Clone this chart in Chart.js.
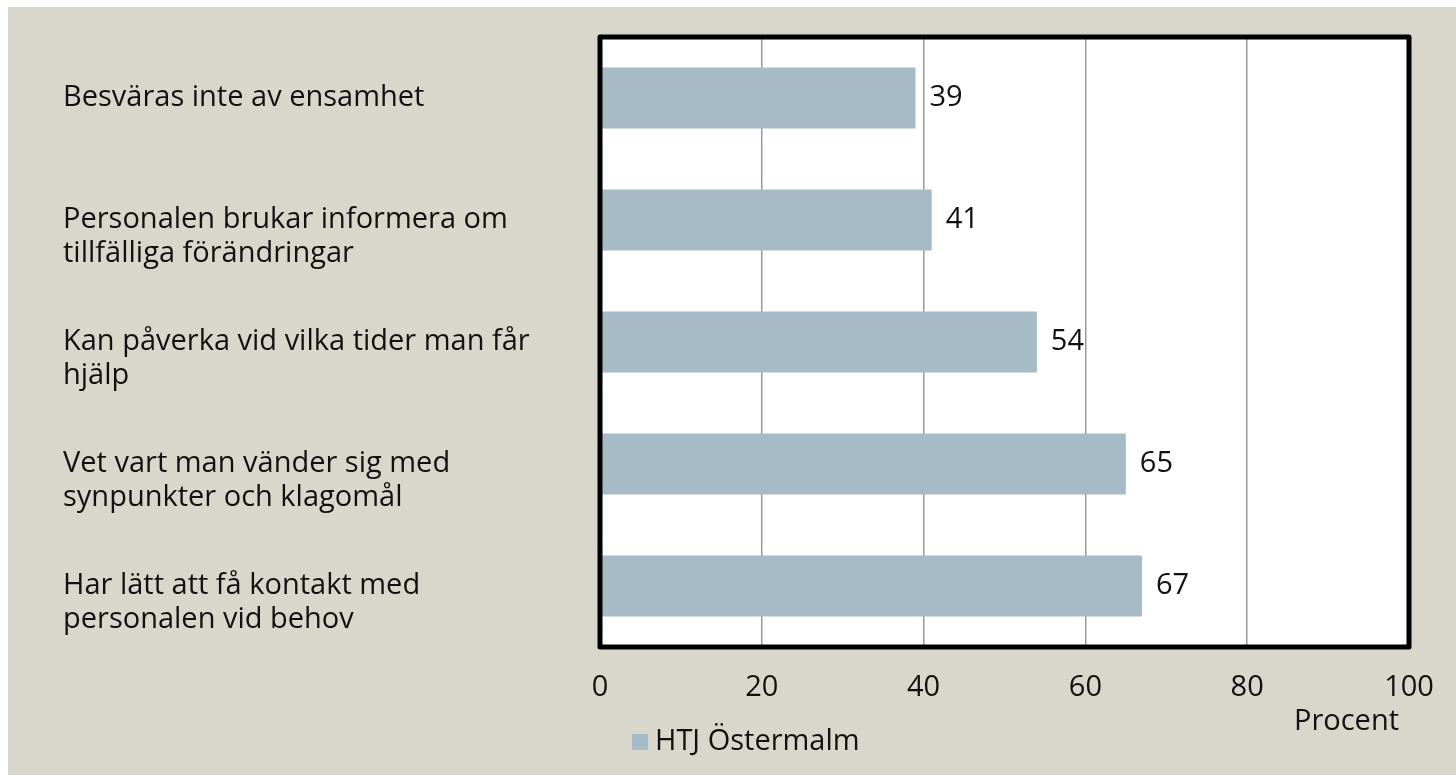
<!DOCTYPE html>
<html>
<head>
<meta charset="utf-8">
<script src="https://cdn.jsdelivr.net/npm/chart.js@4/dist/chart.umd.min.js"></script>
<style>
html,body{margin:0;padding:0;background:#fff;overflow:hidden;}
#wrap{position:absolute;left:0;top:0;width:1456px;height:775px;}
</style>
</head>
<body>
<div id="wrap"><canvas id="c" width="1456" height="775"></canvas></div>
<script>
const categories = [
  ["Besväras inte av ensamhet"],
  ["", "Personalen brukar informera om", "tillfälliga förändringar"],
  ["", "Kan påverka vid vilka tider man får", "hjälp"],
  ["", "Vet vart man vänder sig med", "synpunkter och klagomål"],
  ["", "Har lätt att få kontakt med", "personalen vid behov"]
];
const seriesName = "HTJ Östermalm";
const values = [39, 41, 54, 65, 67];
const xTicks = [0, 20, 40, 60, 80, 100];
const axisTitle = "Procent";

const FONT = "'Open Sans', sans-serif";
const FS = 29;
const BAR = '#a6bbc6';
const BG = '#d9d7cb';

const decor = {
  id: 'decor',
  beforeDraw(chart) {
    const ctx = chart.ctx;
    ctx.save();
    ctx.fillStyle = '#ffffff';
    ctx.fillRect(0, 0, chart.width, chart.height);
    ctx.fillStyle = BG;
    ctx.fillRect(8, 7, chart.width - 8, chart.height - 7);
    const a = chart.chartArea;
    ctx.fillStyle = '#ffffff';
    ctx.fillRect(a.left, a.top, a.right - a.left, a.bottom - a.top);
    ctx.restore();
  },
  afterDatasetsDraw(chart) {
    const ctx = chart.ctx;
    const a = chart.chartArea;
    ctx.save();
    ctx.strokeStyle = '#000';
    ctx.lineWidth = 5;
    ctx.lineJoin = 'round';
    ctx.strokeRect(a.left, a.top, a.right - a.left, a.bottom - a.top);
    ctx.fillStyle = '#111';
    ctx.font = FS + 'px ' + FONT;
    ctx.textAlign = 'left';
    ctx.textBaseline = 'middle';
    const meta = chart.getDatasetMeta(0);
    meta.data.forEach((bar, i) => {
      ctx.fillText(String(chart.data.datasets[0].data[i]), bar.x + 14, bar.y);
    });
    ctx.textAlign = 'right';
    ctx.fillText(axisTitle, 1399, 722);
    ctx.fillStyle = chart.data.datasets[0].backgroundColor;
    ctx.fillRect(632, 734, 16, 16);
    ctx.fillStyle = '#111';
    ctx.textAlign = 'left';
    ctx.fillText(chart.data.datasets[0].label, 655, 742);
    ctx.restore();
  }
};

new Chart(document.getElementById('c'), {
  type: 'bar',
  data: {
    labels: categories,
    datasets: [{
      label: seriesName,
      data: values,
      backgroundColor: BAR,
      borderWidth: 0,
      categoryPercentage: 1.0,
      barPercentage: 0.5
    }]
  },
  options: {
    indexAxis: 'y',
    responsive: false,
    animation: false,
    devicePixelRatio: 1,
    layout: { padding: { left: 63, top: 37, right: 47, bottom: 0 } },
    plugins: {
      legend: { display: false },
      tooltip: { enabled: false }
    },
    scales: {
      x: {
        min: 0, max: 100,
        afterBuildTicks(scale) { scale.ticks = xTicks.map(v => ({ value: v })); },
        afterFit(scale) { scale.height = 128; scale.paddingLeft = 0; scale.paddingRight = 0; },
        grid: { color: '#999999', lineWidth: 1.5, drawTicks: false },
        border: { display: false },
        ticks: {
          padding: 23,
          color: '#111',
          font: { family: FONT, size: FS },
          maxRotation: 0
        }
      },
      y: {
        afterFit(scale) { scale.width = 537; scale.paddingTop = 0; scale.paddingBottom = 0; },
        grid: { display: false, drawTicks: false },
        border: { display: false },
        ticks: {
          crossAlign: 'far',
          padding: 10,
          color: '#111',
          font: { family: FONT, size: FS, lineHeight: 1.17 },
          autoSkip: false
        }
      }
    }
  },
  plugins: [decor]
});
</script>
</body>
</html>
